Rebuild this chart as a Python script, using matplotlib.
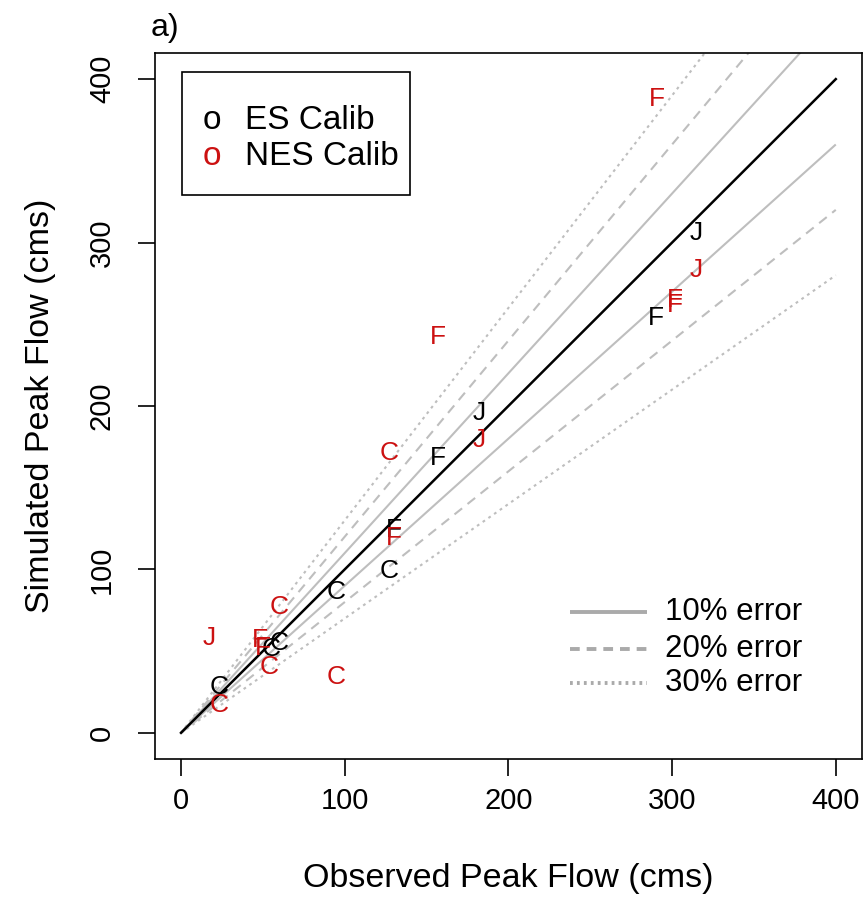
import numpy as np
import matplotlib
matplotlib.use('Agg')
import matplotlib.pyplot as plt
from matplotlib.patches import Rectangle

plt.rcParams['font.family'] = ['Liberation Sans', 'DejaVu Sans']
plt.rcParams['lines.scale_dashes'] = False

# ES calibration (black)
es_site = ['J', 'F', 'J', 'F', 'F', 'C', 'C', 'C', 'C', 'C']
es_obs = [315, 290, 182, 157, 130, 127, 95, 60, 55, 23]
es_sim = [306, 254, 196, 168, 124, 99, 86, 55, 51, 28]

# NES calibration (red)
nes_site = ['F', 'F', 'C', 'J', 'F', 'J', 'F', 'F', 'J', 'C', 'F', 'F', 'C', 'C', 'C']
nes_obs = [291, 157, 127, 182, 130, 315, 302, 302, 17, 60, 48, 50, 54, 95, 23]
nes_sim = [388, 242, 171, 179, 119, 283, 265, 262, 58, 77, 57, 52, 40, 34, 17]

err_levels = [0.1, 0.2, 0.3]
err_labels = ['10% error', '20% error', '30% error']
ticks = [0, 100, 200, 300, 400]

gray = '#bebebe'
red = '#cc1111'
dash_styles = [(0, ()), (0, (7, 5)), (0, (2, 3))]

fig = plt.figure(figsize=(8.65, 9.07), dpi=100)
ax = fig.add_axes([0.179, 0.1632, 0.8175, 0.7784])

xx = np.array([0, 400])
for lev, ds in zip(err_levels, dash_styles):
    for f in (1 + lev, 1 - lev):
        ax.plot(xx, f * xx, color=gray, lw=1.5, linestyle=ds)
ax.plot(xx, xx, color='black', lw=1.8)

for s, x, y in zip(es_site, es_obs, es_sim):
    ax.text(x, y, s, color='black', fontsize=19, ha='center', va='center')
for s, x, y in zip(nes_site, nes_obs, nes_sim):
    ax.text(x, y, s, color=red, fontsize=19, ha='center', va='center')

ax.set_xlim(-16, 416)
ax.set_ylim(-16, 416)
ax.set_xticks(ticks)
ax.set_yticks(ticks)
ax.tick_params(labelsize=21, length=12, width=1.2)
ax.tick_params(axis='x', pad=8)
ax.tick_params(axis='y', pad=16)
for lab in ax.get_yticklabels():
    lab.set_rotation(90)
    lab.set_va('center')
for sp in ax.spines.values():
    sp.set_linewidth(1.2)

ax.set_xlabel('Observed Peak Flow (cms)', fontsize=24.5)
ax.set_ylabel('Simulated Peak Flow (cms)', fontsize=24.5)
ax.xaxis.set_label_coords(0.5, -0.148)
ax.yaxis.set_label_coords(-0.14, 0.5)

# legend for calibrations
ax.add_patch(Rectangle((0.038, 0.799), 0.323, 0.174, transform=ax.transAxes,
                       fill=False, edgecolor='black', lw=1.2))
ax.text(0.0806, 0.904, 'o', color='black', fontsize=24, ha='center', va='center',
        transform=ax.transAxes)
ax.text(0.127, 0.904, 'ES Calib', color='black', fontsize=24, ha='left', va='center',
        transform=ax.transAxes)
ax.text(0.0806, 0.853, 'o', color=red, fontsize=24, ha='center', va='center',
        transform=ax.transAxes)
ax.text(0.127, 0.853, 'NES Calib', color='black', fontsize=24, ha='left', va='center',
        transform=ax.transAxes)

# legend for error lines
leg_y = [0.208, 0.156, 0.108]
for yy, lab, ds in zip(leg_y, err_labels, dash_styles):
    ax.plot([0.587, 0.696], [yy, yy], color='#aaaaaa', lw=2.8, linestyle=ds,
            transform=ax.transAxes, clip_on=False)
    ax.text(0.722, yy, lab, fontsize=22.5, ha='left', va='center', transform=ax.transAxes)

fig.text(0.191, 0.969, 'a)', fontsize=23, ha='center', va='center')

fig.savefig('out.png', dpi=100)
